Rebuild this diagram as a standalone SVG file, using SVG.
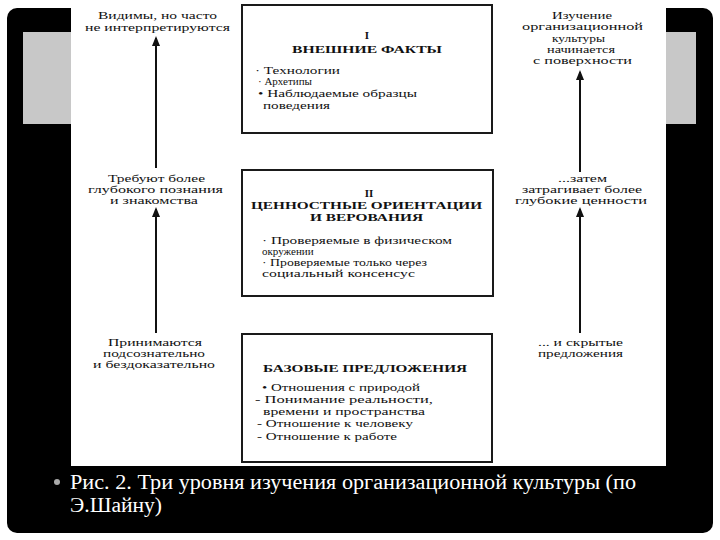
<svg xmlns="http://www.w3.org/2000/svg" width="720" height="540" viewBox="0 0 720 540">
<style>
text{font-family:"Liberation Serif","DejaVu Serif","Times New Roman",serif}
.t{font-size:11px;fill:#111}
.b{font-size:11px;font-weight:bold;fill:#111}
.box{fill:#fff;stroke:#1a1a1a;stroke-width:2}
.ln{stroke:#111;stroke-width:2;fill:none}
.cap{font-size:20px;fill:#fff}
</style>
<rect width="720" height="540" fill="#fff"/>
<rect x="7" y="8" width="706" height="525" rx="10" fill="#000"/>
<rect x="23" y="32" width="48" height="92" fill="#c8c8c8"/>
<rect x="665" y="32" width="31" height="92" fill="#c8c8c8"/>
<rect x="71" y="0" width="595" height="466" fill="#fff"/>

<g id="connectors">
<line class="ln" x1="156" y1="168" x2="156" y2="38"/>
<path d="M152,46 L156,36 L160,46 Z" fill="#111"/>
<line class="ln" x1="156" y1="333" x2="156" y2="209"/>
<path d="M152,217 L156,207 L160,217 Z" fill="#111"/>
<line class="ln" x1="580" y1="172" x2="580" y2="72"/>
<path d="M576,80 L580,70 L584,80 Z" fill="#111"/>
<line class="ln" x1="580" y1="333" x2="580" y2="209"/>
<path d="M576,217 L580,207 L584,217 Z" fill="#111"/>
</g>

<g id="box1">
<rect class="box" x="242" y="5" width="250" height="128"/>
<text class="b" x="367" y="39" text-anchor="middle">I</text>
<text class="b" x="292" y="53" textLength="150" lengthAdjust="spacingAndGlyphs">ВНЕШНИЕ ФАКТЫ</text>
<text class="t" x="255" y="74" textLength="85" lengthAdjust="spacingAndGlyphs">· Технологии</text>
<text class="t" x="258" y="85">· Архетипы</text>
<text class="t" x="258" y="97" textLength="159" lengthAdjust="spacingAndGlyphs">•  Наблюдаемые образцы</text>
<text class="t" x="263" y="109" textLength="67" lengthAdjust="spacingAndGlyphs">поведения</text>
</g>

<g id="box2">
<rect class="box" x="242" y="170" width="251" height="126"/>
<text class="b" x="369" y="197" text-anchor="middle">II</text>
<text class="b" x="251" y="209" textLength="231" lengthAdjust="spacingAndGlyphs">ЦЕННОСТНЫЕ ОРИЕНТАЦИИ</text>
<text class="b" x="310" y="221" textLength="113" lengthAdjust="spacingAndGlyphs">И ВЕРОВАНИЯ</text>
<text class="t" x="262" y="244" textLength="190" lengthAdjust="spacingAndGlyphs">·  Проверяемые в физическом</text>
<text class="t" x="262" y="255">окружении</text>
<text class="t" x="262" y="266" textLength="165" lengthAdjust="spacingAndGlyphs">·  Проверяемые только через</text>
<text class="t" x="262" y="277" textLength="153" lengthAdjust="spacingAndGlyphs">социальный  консенсус</text>
</g>

<g id="box3">
<rect class="box" x="242" y="334" width="250" height="128"/>
<text class="b" x="263" y="372" textLength="204" lengthAdjust="spacingAndGlyphs">БАЗОВЫЕ ПРЕДЛОЖЕНИЯ</text>
<text class="t" x="262" y="391" textLength="158" lengthAdjust="spacingAndGlyphs">•  Отношения с природой</text>
<text class="t" x="255" y="403" textLength="178" lengthAdjust="spacingAndGlyphs">- Понимание реальности,</text>
<text class="t" x="263" y="415" textLength="162" lengthAdjust="spacingAndGlyphs">времени и пространства</text>
<text class="t" x="257" y="427" textLength="156" lengthAdjust="spacingAndGlyphs">- Отношение к человеку</text>
<text class="t" x="257" y="440" textLength="140" lengthAdjust="spacingAndGlyphs">- Отношение к работе</text>
</g>

<g id="label-left-top">
<text class="t" x="98" y="19" textLength="119" lengthAdjust="spacingAndGlyphs">Видимы, но часто</text>
<text class="t" x="85" y="31" textLength="145" lengthAdjust="spacingAndGlyphs">не  интерпретируются</text>
</g>
<g id="label-left-mid">
<text class="t" x="108" y="182" textLength="97" lengthAdjust="spacingAndGlyphs">Требуют  более</text>
<text class="t" x="88" y="193" textLength="135" lengthAdjust="spacingAndGlyphs">глубокого  познания</text>
<text class="t" x="110" y="204" textLength="88" lengthAdjust="spacingAndGlyphs">и знакомства</text>
</g>
<g id="label-left-bot">
<text class="t" x="108" y="346" textLength="94" lengthAdjust="spacingAndGlyphs">Принимаются</text>
<text class="t" x="103" y="357" textLength="102" lengthAdjust="spacingAndGlyphs">подсознательно</text>
<text class="t" x="93" y="368" textLength="122" lengthAdjust="spacingAndGlyphs">и бездоказательно</text>
</g>
<g id="label-right-top">
<text class="t" x="552" y="19" textLength="60" lengthAdjust="spacingAndGlyphs">Изучение</text>
<text class="t" x="522" y="30" textLength="121" lengthAdjust="spacingAndGlyphs">организационной</text>
<text class="t" x="552" y="42" textLength="53" lengthAdjust="spacingAndGlyphs">культуры</text>
<text class="t" x="547" y="53" textLength="68" lengthAdjust="spacingAndGlyphs">начинается</text>
<text class="t" x="533" y="64" textLength="99" lengthAdjust="spacingAndGlyphs">с  поверхности</text>
</g>
<g id="label-right-mid">
<text class="t" x="558" y="182" textLength="49" lengthAdjust="spacingAndGlyphs">...затем</text>
<text class="t" x="522" y="193" textLength="120" lengthAdjust="spacingAndGlyphs">затрагивает  более</text>
<text class="t" x="515" y="204" textLength="132" lengthAdjust="spacingAndGlyphs">глубокие  ценности</text>
</g>
<g id="label-right-bot">
<text class="t" x="538" y="346" textLength="85" lengthAdjust="spacingAndGlyphs">... и скрытые</text>
<text class="t" x="538" y="357" textLength="85" lengthAdjust="spacingAndGlyphs">предложения</text>
</g>

<g id="caption">
<circle cx="57" cy="482" r="3" fill="#aaa"/>
<text class="cap" x="70" y="489" textLength="566" lengthAdjust="spacingAndGlyphs">Рис. 2. Три уровня изучения организационной культуры (по</text>
<text class="cap" x="70" y="512" textLength="92" lengthAdjust="spacingAndGlyphs">Э.Шайну)</text>
</g>
</svg>
